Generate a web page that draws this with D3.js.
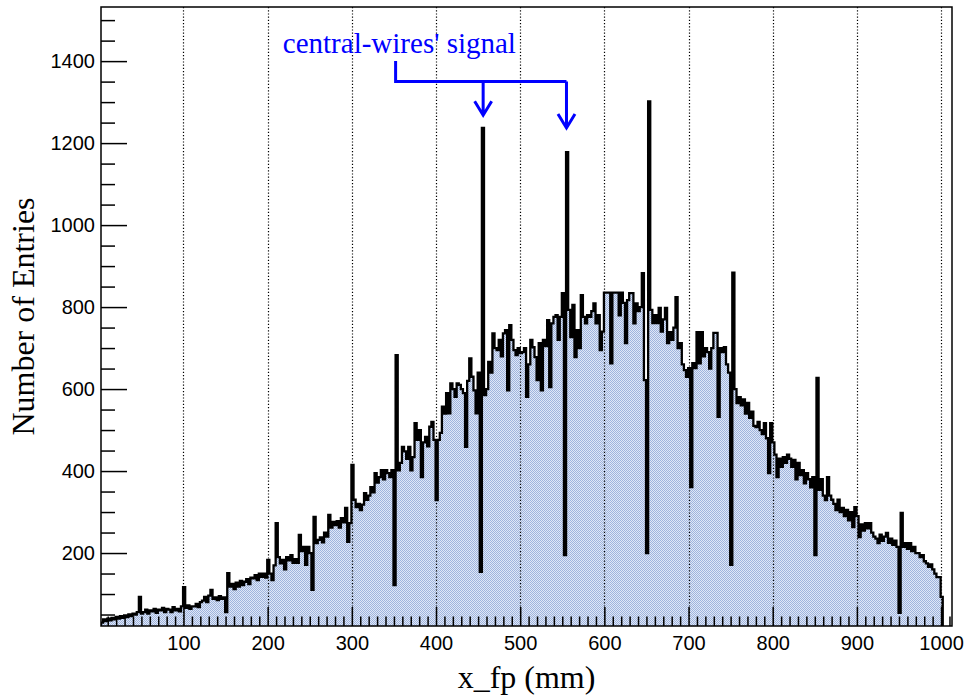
<!DOCTYPE html>
<html>
<head>
<meta charset="utf-8">
<script src="https://cdn.jsdelivr.net/npm/d3@7"></script>
<style>
  body { margin: 0; background: #fff; }
  svg { display: block; }
  .tick text { font-family: "Liberation Sans", Arial, sans-serif; font-size: 20px; fill: #000; }
  .tick line { stroke: #000; stroke-width: 1.5; }
</style>
</head>
<body>
<svg width="969" height="698"></svg>
<script>
// histogram binning (mm)
const binStart = 2, binWidth = 2.5;

// entries per bin (4 bins = 10 mm per group)
const counts = [
  30, 38, 34, 40,   36, 42, 38, 44,   40, 46, 42, 48,   44, 50, 46, 52,   50, 56, 93, 52,
  56, 62, 52, 60,   58, 64, 54, 62,   60, 66, 56, 64,   62, 56, 68, 60,   64, 58, 70, 117,
  66, 72, 64, 70,   70, 76, 68, 80,   84, 93, 80, 96,   110, 88, 92, 85,  95, 88, 92, 56,
  151, 118, 125, 112, 128, 118, 132, 122, 130, 136, 124, 140, 138, 146, 134, 150, 142, 150, 140, 183,
  150, 134, 170, 273, 190, 175, 183, 160, 190, 182, 195, 176, 185, 176, 244, 205, 215, 171, 215, 200,
  110, 288, 224, 232, 238, 226, 250, 240, 293, 262, 276, 268, 278, 262, 285, 275, 310, 227, 273, 415,
  330, 312, 320, 305, 318, 346, 330, 340, 361, 348, 395, 372, 385, 402, 380, 402, 395, 385, 402, 122,
  683, 402, 420, 459, 448, 430, 459, 402, 434, 517, 476, 500, 385, 470, 483, 460, 508, 520, 476, 329,
  476, 493, 557, 540, 590, 541, 614, 600, 581, 614, 610, 600, 590, 459, 620, 675, 630, 597, 541, 640,
  154, 1237, 585, 600, 666, 640, 736, 700, 695, 720, 680, 736, 744, 597, 756, 720, 695, 683, 700, 688,
  690, 700, 581, 660, 720, 702, 678, 622, 712, 597, 720, 705, 768, 605, 760, 776, 780, 720, 776, 834,
  195, 1178, 793, 727, 805, 678, 744, 700, 829, 776, 760, 780, 776, 790, 809, 760, 780, 695, 740, 835,
  835, 835, 663, 835, 835, 835, 780, 835, 810, 712, 817, 834, 834, 760, 809, 790, 800, 883, 622, 200,
  1302, 793, 761, 780, 761, 798, 740, 770, 798, 712, 739, 720, 750, 824, 700, 712, 660, 646, 630, 651,
  361, 663, 651, 739, 663, 739, 680, 700, 690, 650, 700, 737, 737, 532, 700, 690, 702, 660, 640, 171,
  884, 600, 566, 580, 560, 575, 540, 566, 530, 545, 510, 507, 520, 500, 490, 517, 480, 395, 517, 470,
  440, 385, 430, 410, 434, 420, 440, 430, 410, 427, 380, 420, 390, 402, 370, 395, 380, 360, 385, 195,
  627, 354, 380, 340, 329, 385, 340, 330, 320, 305, 330, 300, 310, 290, 305, 280, 300, 263, 312, 290,
  239, 270, 255, 273, 260, 273, 250, 240, 235, 224, 245, 230, 240, 249, 225, 235, 220, 230, 215, 54,
  298, 215, 224, 210, 224, 205, 215, 200, 200, 190, 195, 180, 175, 166, 172, 160, 150, 141, 141, 93
];

// axis ticks
const xMajorTicks = [100, 200, 300, 400, 500, 600, 700, 800, 900, 1000];
const yMajorTicks = [200, 400, 600, 800, 1000, 1200, 1400];

// annotation
const noteText = "central-wires' signal";
const noteFrom = 352, noteTargets = [456, 555];
const noteTextPos = [218, 1420], noteLevel = 1350, noteTips = [1268, 1237];

const svg = d3.select("svg");
const frame = { left: 101, right: 952, top: 7, bottom: 626 };

const x = d3.scaleLinear().domain([2, 1013]).range([frame.left, frame.right]);
const y = d3.scaleLinear().domain([22, 1532]).range([frame.bottom, frame.top]);

const defs = svg.append("defs");
const pat = defs.append("pattern").attr("id", "dots")
  .attr("width", 2).attr("height", 2).attr("patternUnits", "userSpaceOnUse");
pat.append("rect").attr("width", 2).attr("height", 2).attr("fill", "#dfe7f7");
pat.append("rect").attr("width", 1).attr("height", 1).attr("fill", "#9fb4dd");
pat.append("rect").attr("x", 1).attr("y", 1).attr("width", 1).attr("height", 1).attr("fill", "#9fb4dd");

defs.append("clipPath").attr("id", "clip").append("rect")
  .attr("x", frame.left).attr("y", frame.top)
  .attr("width", frame.right - frame.left).attr("height", frame.bottom - frame.top);

const pts = counts.map((c, i) => ({ x: binStart + i * binWidth, y: c }));
const binEnd = binStart + counts.length * binWidth;
pts.push({ x: binEnd, y: counts[counts.length - 1] });

const plot = svg.append("g").attr("clip-path", "url(#clip)");

// fill
plot.append("path")
  .datum(pts)
  .attr("fill", "url(#dots)")
  .attr("d", d3.area()
    .x(d => x(d.x))
    .y0(frame.bottom)
    .y1(d => y(d.y))
    .curve(d3.curveStepAfter));

// dotted grid
svg.append("g").selectAll("line")
  .data(xMajorTicks)
  .enter().append("line")
  .attr("x1", d => Math.round(x(d)) + 0.5)
  .attr("x2", d => Math.round(x(d)) + 0.5)
  .attr("y1", frame.top)
  .attr("y2", frame.bottom)
  .attr("stroke", "#000")
  .attr("stroke-width", 1.2)
  .attr("stroke-dasharray", "1.2,2");

// outline
const outline = [{ x: binStart, y: 0 }, ...pts, { x: binEnd, y: 0 }];
plot.append("path")
  .datum(outline)
  .attr("fill", "none")
  .attr("stroke", "#000")
  .attr("stroke-width", 2.3)
  .attr("stroke-linejoin", "miter")
  .attr("d", d3.line().x(d => x(d.x)).y(d => y(d.y)).curve(d3.curveStepAfter));

// x axis
const fmt = d3.format("d");
svg.append("g").attr("transform", `translate(0,${frame.bottom})`)
  .call(d3.axisBottom(x).tickValues(xMajorTicks).tickFormat(fmt).tickSizeInner(-19).tickSizeOuter(0).tickPadding(10));
svg.append("g").attr("transform", `translate(0,${frame.bottom})`)
  .call(d3.axisBottom(x).tickValues(d3.range(10, 1011, 10).filter(v => v % 100)).tickSizeInner(-9.5).tickSizeOuter(0).tickFormat(""));

// y axis
svg.append("g").attr("transform", `translate(${frame.left},0)`)
  .call(d3.axisLeft(y).tickValues(yMajorTicks).tickFormat(fmt).tickSizeInner(-26).tickSizeOuter(0).tickPadding(6));
svg.append("g").attr("transform", `translate(${frame.left},0)`)
  .call(d3.axisLeft(y).tickValues(d3.range(50, 1501, 50).filter(v => v % 200)).tickSizeInner(-14).tickSizeOuter(0).tickFormat(""));

svg.selectAll(".domain").remove();

// frame
svg.append("rect")
  .attr("x", frame.left).attr("y", frame.top)
  .attr("width", frame.right - frame.left).attr("height", frame.bottom - frame.top)
  .attr("fill", "none").attr("stroke", "#000").attr("stroke-width", 1.5);

// titles
svg.append("text")
  .attr("x", (frame.left + frame.right) / 2).attr("y", 688)
  .attr("text-anchor", "middle")
  .style("font-family", "'Liberation Serif', 'Times New Roman', serif")
  .style("font-size", "32px")
  .text("x_fp (mm)");

svg.append("text")
  .attr("transform", `translate(33.5,${(frame.top + frame.bottom) / 2}) rotate(-90)`)
  .attr("text-anchor", "middle")
  .style("font-family", "'Liberation Serif', 'Times New Roman', serif")
  .style("font-size", "32px")
  .text("Number of Entries");

// annotation
const blue = "#0000ff";
svg.append("text")
  .attr("x", x(noteTextPos[0])).attr("y", y(noteTextPos[1]))
  .style("font-family", "'Liberation Serif', 'Times New Roman', serif")
  .style("font-size", "29px")
  .attr("fill", blue)
  .text(noteText);

const yl = y(noteLevel);
svg.append("path")
  .attr("fill", "none").attr("stroke", blue).attr("stroke-width", 3)
  .attr("d", `M${x(noteFrom)},${y(noteTextPos[1]) + 8}V${yl}H${x(noteTargets[1])}`);

noteTargets.forEach((t, i) => {
  const xt = x(t), yt = y(noteTips[i]);
  svg.append("path")
    .attr("fill", "none").attr("stroke", blue).attr("stroke-width", 3)
    .attr("d", `M${xt},${yl}V${yt}M${xt - 8.5},${yt - 14}L${xt},${yt}L${xt + 8.5},${yt - 14}`);
});
</script>
</body>
</html>
